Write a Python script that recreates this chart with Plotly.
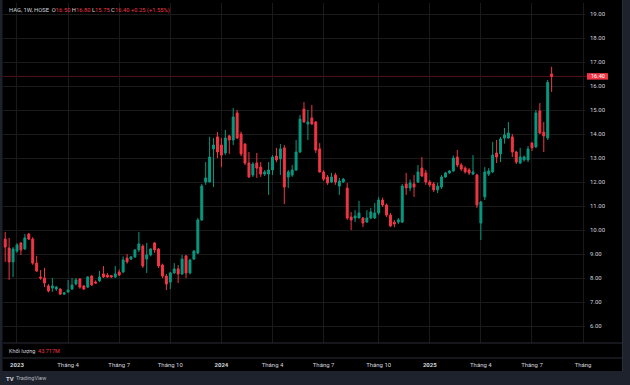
import pandas as pd
import plotly.graph_objects as go

# ---------------- data (weekly HAG candles) ----------------
opens = [9.62, 9.25, 8.67, 9.12, 9.46, 9.21, 9.83, 9.62, 8.62, 8.04,
         8.00, 7.67, 7.58, 7.54, 7.54, 7.33, 7.42, 7.54, 7.75, 7.96,
         7.67, 7.62, 8.08, 7.83, 7.88, 8.17, 8.12, 8.10, 8.04, 8.25,
         8.25, 8.83, 8.79, 8.88, 9.17, 9.33, 8.79, 8.96, 9.46, 9.21,
         8.54, 8.08, 7.83, 8.21, 8.38, 8.17, 8.92, 8.21, 8.79, 9.04,
         10.42, 12.00, 12.00, 13.38, 13.88, 13.54, 13.21, 13.92, 13.75, 14.88,
         14.00, 13.58, 12.79, 12.29, 12.79, 12.62, 12.33, 12.33, 12.50, 13.08,
         12.96, 13.42, 12.21, 12.29, 12.50, 13.25, 15.04, 14.42, 14.67, 14.50,
         13.38, 12.42, 12.21, 12.00, 12.29, 11.83, 12.00, 11.75, 10.54, 10.50,
         10.50, 10.50, 10.33, 10.50, 10.50, 10.71, 11.25, 11.04, 10.62, 10.33,
         10.33, 10.33, 11.92, 11.75, 11.92, 12.00, 12.58, 12.38, 12.00, 11.92,
         11.67, 11.79, 12.21, 12.38, 12.46, 13.04, 12.71, 12.58, 12.50, 12.33,
         12.29, 10.29, 11.38, 12.33, 12.42, 13.21, 13.17, 13.83, 13.83, 13.88,
         13.25, 12.79, 12.92, 12.92, 13.62, 13.46, 14.96, 14.08, 13.83, 16.50]
highs = [9.92, 9.67, 9.29, 9.45, 9.50, 9.83, 9.88, 9.70, 8.92, 8.33,
         8.42, 7.75, 8.00, 7.67, 7.58, 7.42, 7.92, 8.00, 8.00, 8.00,
         7.71, 8.08, 8.12, 7.90, 8.29, 8.50, 8.21, 8.12, 8.50, 8.35,
         8.90, 9.00, 8.92, 9.20, 9.92, 9.40, 9.46, 9.25, 9.50, 9.25,
         8.60, 8.17, 8.25, 8.62, 8.54, 8.96, 8.96, 8.80, 9.17, 10.50,
         11.92, 12.83, 13.88, 13.83, 14.08, 13.83, 14.17, 13.96, 15.08, 15.00,
         14.10, 13.62, 13.25, 12.83, 13.21, 12.83, 12.50, 12.83, 13.12, 13.42,
         13.58, 13.54, 12.50, 12.71, 13.75, 14.79, 15.33, 15.00, 15.21, 14.54,
         13.62, 12.50, 12.29, 12.38, 12.38, 12.17, 12.17, 11.96, 10.75, 10.83,
         11.21, 10.54, 10.83, 10.92, 11.12, 11.38, 11.35, 11.10, 10.71, 10.42,
         10.50, 11.92, 12.38, 12.10, 12.29, 12.71, 13.04, 12.50, 12.08, 12.00,
         11.96, 12.29, 12.42, 12.50, 13.10, 13.33, 12.79, 12.65, 12.58, 13.12,
         12.35, 11.21, 12.62, 12.58, 13.67, 13.75, 13.88, 14.25, 14.50, 14.00,
         13.30, 13.42, 13.10, 13.50, 13.67, 15.00, 15.29, 14.50, 16.25, 16.80]
lows = [8.67, 7.92, 8.04, 9.05, 8.96, 9.17, 9.58, 8.55, 8.25, 7.92,
        7.62, 7.40, 7.42, 7.46, 7.29, 7.29, 7.38, 7.50, 7.70, 7.55,
        7.50, 7.58, 7.67, 7.75, 7.83, 8.00, 8.00, 8.00, 8.00, 8.08,
        8.20, 8.60, 8.75, 8.83, 9.08, 8.42, 8.21, 8.90, 9.04, 8.42,
        8.00, 7.50, 7.54, 8.17, 7.79, 8.12, 8.00, 8.15, 8.75, 9.00,
        10.38, 11.88, 12.00, 11.79, 13.00, 12.62, 13.12, 13.17, 13.54, 13.79,
        13.08, 12.71, 12.17, 12.21, 12.17, 12.21, 12.25, 11.46, 12.29, 12.83,
        12.29, 11.08, 11.75, 12.21, 12.46, 13.21, 14.46, 13.75, 14.38, 13.21,
        12.38, 12.04, 11.88, 11.96, 11.88, 11.46, 11.96, 10.42, 10.00, 10.33,
        10.50, 10.12, 10.29, 10.46, 10.46, 10.62, 10.96, 10.54, 10.12, 10.12,
        10.25, 10.29, 11.46, 11.62, 11.38, 11.96, 12.21, 11.88, 11.79, 11.58,
        11.54, 11.71, 12.17, 12.33, 12.42, 12.62, 12.46, 12.35, 12.29, 12.29,
        10.92, 9.58, 11.25, 12.25, 12.38, 12.79, 12.83, 13.60, 13.80, 13.04,
        12.75, 12.75, 12.85, 12.83, 13.29, 13.42, 14.00, 13.25, 13.75, 15.75]
closes = [9.29, 8.67, 9.21, 9.38, 9.17, 9.67, 9.62, 8.62, 8.29, 8.00,
          7.79, 7.46, 7.67, 7.62, 7.33, 7.38, 7.50, 7.71, 7.92, 7.62,
          7.54, 8.04, 7.71, 7.79, 8.04, 8.04, 8.04, 8.04, 8.17, 8.12,
          8.75, 8.67, 8.88, 9.17, 9.42, 8.50, 8.96, 9.21, 9.17, 8.50,
          8.08, 7.75, 8.21, 8.38, 8.17, 8.79, 8.21, 8.75, 9.12, 10.42,
          11.83, 12.17, 13.04, 13.54, 13.25, 13.12, 13.83, 13.75, 14.71, 13.83,
          13.17, 12.79, 12.21, 12.75, 12.58, 12.33, 12.42, 12.50, 13.04, 12.92,
          13.38, 11.79, 12.42, 12.50, 13.25, 14.62, 14.50, 14.50, 14.42, 13.33,
          12.42, 12.12, 11.96, 12.21, 12.00, 12.04, 12.12, 10.50, 10.42, 10.58,
          10.71, 10.29, 10.50, 10.75, 10.71, 11.25, 11.04, 10.62, 10.17, 10.25,
          10.42, 11.83, 11.75, 11.96, 11.79, 12.42, 12.25, 12.00, 11.88, 11.67,
          11.83, 12.21, 12.38, 12.46, 13.00, 12.71, 12.54, 12.42, 12.38, 12.42,
          11.04, 11.17, 12.42, 12.46, 13.12, 13.04, 13.79, 13.96, 14.04, 13.25,
          12.83, 13.04, 13.04, 13.38, 13.42, 14.88, 14.04, 13.92, 16.15, 16.40]
first_week = "2022-12-12"

tick_dates = ["2023-01-02", "2023-04-03", "2023-07-03", "2023-10-02",
              "2024-01-01", "2024-04-01", "2024-07-01", "2024-10-07",
              "2025-01-06", "2025-04-07", "2025-07-07", "2025-10-06"]
tick_labels = ["<b>2023</b>", "Tháng 4", "Tháng 7", "Tháng 10",
               "<b>2024</b>", "Tháng 4", "Tháng 7", "Tháng 10",
               "<b>2025</b>", "Tháng 4", "Tháng 7", "Tháng"]
price_ticks = [6, 7, 8, 9, 10, 11, 12, 13, 14, 15, 16, 17, 18, 19]
price_labels = [f"{v:.2f}" for v in price_ticks]
symbol_label = "HAG, 1W, HOSE"
volume_title = "Khối lượng"
volume_value = "43.717M"

# ---------------- figure ----------------
UP = "#089981"
DOWN = "#f23645"
TXT = "#d1d4dc"
FONT = "Roboto, sans-serif"
W, H = 630, 385
L, R, T, B = 3, 45, 3, 27
PW, PH = W - L - R, H - T - B


def xp(px):
    return (px - L) / PW


def yp(py):
    return (H - B - py) / PH


dates = pd.date_range(first_week, periods=len(closes), freq="7D")

fig = go.Figure(go.Candlestick(
    x=dates, open=opens, high=highs, low=lows, close=closes,
    increasing=dict(line=dict(color=UP, width=1), fillcolor=UP),
    decreasing=dict(line=dict(color=DOWN, width=1), fillcolor=DOWN),
    whiskerwidth=0, hoverinfo="skip",
))

last_o, last_h, last_l, last_c = opens[-1], highs[-1], lows[-1], closes[-1]
chg = last_c - closes[-2]
pct = chg / closes[-2] * 100
red = f"<span style='color:{DOWN}'>"
header = (f"<span style='color:{TXT}'>{symbol_label}</span>  "
          f"O{red}{last_o:.2f}</span> H{red}{last_h:.2f}</span> "
          f"L{red}{last_l:.2f}</span> C{red}{last_c:.2f}</span> "
          f"{red}{chg:+.2f} ({pct:+.2f}%)</span>")

shapes = [
    # last price line
    dict(type="line", xref="paper", yref="y", x0=0, x1=xp(587),
         y0=last_c, y1=last_c, line=dict(color="rgba(242,54,69,0.35)", width=1),
         layer="below"),
    # volume pane band
    dict(type="rect", xref="paper", yref="paper", x0=xp(3), x1=xp(622),
         y0=yp(358), y1=yp(343), fillcolor="black", line=dict(width=0), layer="above"),
    dict(type="line", xref="paper", yref="paper", x0=xp(3), x1=xp(622),
         y0=yp(343), y1=yp(343), line=dict(color="#2a2e39", width=1)),
    dict(type="line", xref="paper", yref="paper", x0=xp(3), x1=xp(622),
         y0=yp(358), y1=yp(358), line=dict(color="#2a2e39", width=1)),
    # frame: right strip, left strip, footer
    dict(type="rect", xref="paper", yref="paper", x0=xp(622), x1=xp(631),
         y0=yp(386), y1=yp(-1), fillcolor="#1e222d", line=dict(width=0)),
    dict(type="line", xref="paper", yref="paper", x0=xp(622.5), x1=xp(622.5),
         y0=yp(371), y1=yp(0), line=dict(color="#2a2e39", width=1)),
    dict(type="rect", xref="paper", yref="paper", x0=xp(-1), x1=xp(2.5),
         y0=yp(386), y1=yp(-1), fillcolor="#1e222d", line=dict(width=0)),
    dict(type="rect", xref="paper", yref="paper", x0=xp(-1), x1=xp(631),
         y0=yp(386), y1=yp(371), fillcolor="#1e222d", line=dict(width=0)),
    # last price tag
    dict(type="rect", xref="paper", yref="y", x0=xp(587), x1=xp(608),
         y0=last_c - 0.135, y1=last_c + 0.135, fillcolor=DOWN, line=dict(width=0)),
]

annotations = [
    dict(text=header, x=xp(7), y=yp(11), xref="paper", yref="paper",
         xanchor="left", yanchor="middle", showarrow=False,
         font=dict(family=FONT, size=5.8, color=TXT)),
    dict(text=f"{last_c:.2f}", x=xp(597.5), y=last_c, xref="paper", yref="y",
         xanchor="center", yanchor="middle", showarrow=False,
         font=dict(family=FONT, size=5.5, color="white")),
    dict(text=f"{volume_title}  <span style='color:{DOWN}'>{volume_value}</span>",
         x=xp(7), y=yp(350.5), xref="paper", yref="paper",
         xanchor="left", yanchor="middle", showarrow=False,
         font=dict(family=FONT, size=5.5, color=TXT)),
    dict(text="<b>TV</b>", x=xp(3.5), y=yp(378), xref="paper", yref="paper",
         xanchor="left", yanchor="middle", showarrow=False,
         font=dict(family=FONT, size=6, color=TXT)),
    dict(text="TradingView", x=xp(13.5), y=yp(378), xref="paper", yref="paper",
         xanchor="left", yanchor="middle", showarrow=False,
         font=dict(family=FONT, size=5.5, color="#b2b5be")),
]

fig.update_layout(
    width=W, height=H,
    margin=dict(l=L, r=R, t=T, b=B),
    paper_bgcolor="black", plot_bgcolor="black",
    showlegend=False,
    font=dict(family=FONT, size=6, color=TXT),
    xaxis=dict(type="date", range=["2022-12-08 02:00", "2025-10-09 10:00"],
               tickvals=tick_dates, ticktext=tick_labels,
               showgrid=True, gridcolor="#1a1a1a", gridwidth=1,
               zeroline=False, showline=False, ticks="",
               tickfont=dict(family=FONT, size=6, color=TXT),
               rangeslider=dict(visible=False), automargin=False,
               ticklabelstandoff=2),
    yaxis=dict(side="right", range=[4.6667, 19.4583],
               tickvals=price_ticks, ticktext=price_labels,
               showgrid=True, gridcolor="#1a1a1a", gridwidth=1,
               zeroline=False, showline=False, ticks="",
               tickfont=dict(family=FONT, size=6, color=TXT),
               automargin=False, ticklabelstandoff=4),
    shapes=shapes,
    annotations=annotations,
)

fig.write_html("out.html",
               config={"displayModeBar": False, "staticPlot": True},
               post_script="document.body.style.margin='0px';document.body.style.overflow='hidden';")
